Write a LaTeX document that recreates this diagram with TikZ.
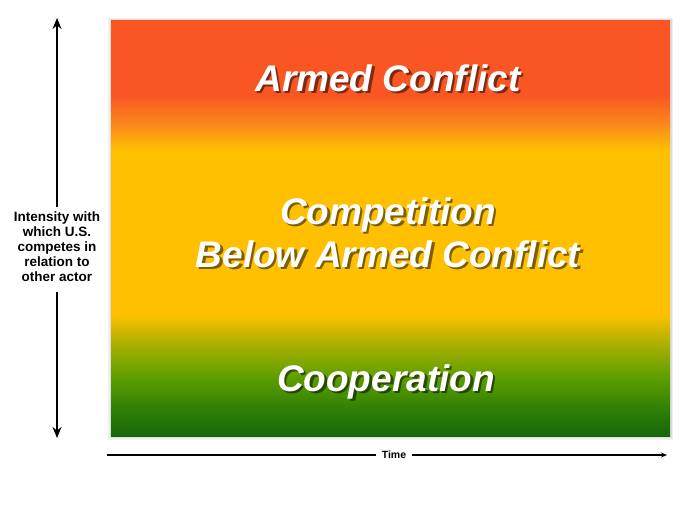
\documentclass[tikz,border=0pt]{standalone}
\usepackage{fontspec}
\setmainfont{Liberation Sans}
\usetikzlibrary{arrows.meta}

\definecolor{conflictred}{HTML}{F95623}
\definecolor{conflictorange}{HTML}{FA8A1C}
\definecolor{competeyellow}{HTML}{FEC000}
\definecolor{coopolive}{HTML}{A8B000}
\definecolor{coopgreen}{HTML}{5E9E00}
\definecolor{coopmid}{HTML}{2E7E05}
\definecolor{coopdark}{HTML}{14660A}

% stops between 25bp (bottom of the box) and 75bp (top of the box)
\pgfdeclareverticalshading{intensity}{100bp}{%
  color(0bp)=(coopdark); color(25bp)=(coopdark);
  color(28.2bp)=(coopmid); color(32.2bp)=(coopgreen);
  color(36.1bp)=(coopolive); color(39.7bp)=(competeyellow);
  color(59.5bp)=(competeyellow); color(62.5bp)=(conflictorange);
  color(66.1bp)=(conflictred); color(75bp)=(conflictred);
  color(100bp)=(conflictred)}

\begin{document}
\begin{tikzpicture}[x=1pt,y=1pt,
    zone/.style={font=\fontsize{37}{43}\selectfont\bfseries\itshape,
      text=white,align=center,anchor=base,inner sep=0pt},
    zoneshadow/.style={zone,text=black,opacity=0.5},
    axislabel/.style={font=\fontsize{13.5}{15}\selectfont\bfseries,
      align=center,inner sep=4pt},
    vaxis/.style={line width=1.6pt,-{Stealth[length=11pt,width=9pt]}},
    haxis/.style={line width=1.3pt}]
  \useasboundingbox[fill=white] (0,0) rectangle (692,518);

  % soft edge round the band
  \fill[black,opacity=0.06] (108,78) rectangle (673,500);
  \fill[black,opacity=0.08] (109.5,79.5) rectangle (671.5,498.5);
  \shade[shading=intensity] (111,81) rectangle (670,497);

  % zones
  \node[zoneshadow] (armedshadow) at (390.5,424) {Armed Conflict};
  \node[zone] (armed) at (388,426) {Armed Conflict};
  \node[zoneshadow] (competeshadow) at (390.5,248) {Competition\\Below Armed Conflict};
  \node[zone] (compete) at (388,250) {Competition\\Below Armed Conflict};
  \node[zoneshadow] (coopshadow) at (388.5,124) {Cooperation};
  \node[zone] (coop) at (386,126) {Cooperation};

  % intensity axis
  \node[axislabel] (intensitylabel) at (57,271.5) {Intensity with\\which U.S.\\competes in\\relation to\\other actor};
  \coordinate (itop) at (57,500);
  \coordinate (ibottom) at (57,80);
  \draw[vaxis] (intensitylabel.north) -- (itop);
  \draw[vaxis] ([yshift=-6pt]intensitylabel.south) -- (ibottom);

  % time axis
  \node[font=\fontsize{10.5}{12}\selectfont\bfseries,inner xsep=6pt] (time) at (394,63) {Time};
  \coordinate (tstart) at (107,63);
  \coordinate (tend) at (667,63);
  \draw[haxis] (tstart) -- (time.west);
  \draw[haxis,-{Stealth[length=6pt,width=5pt]}] (time.east) -- (tend);
\end{tikzpicture}
\end{document}
